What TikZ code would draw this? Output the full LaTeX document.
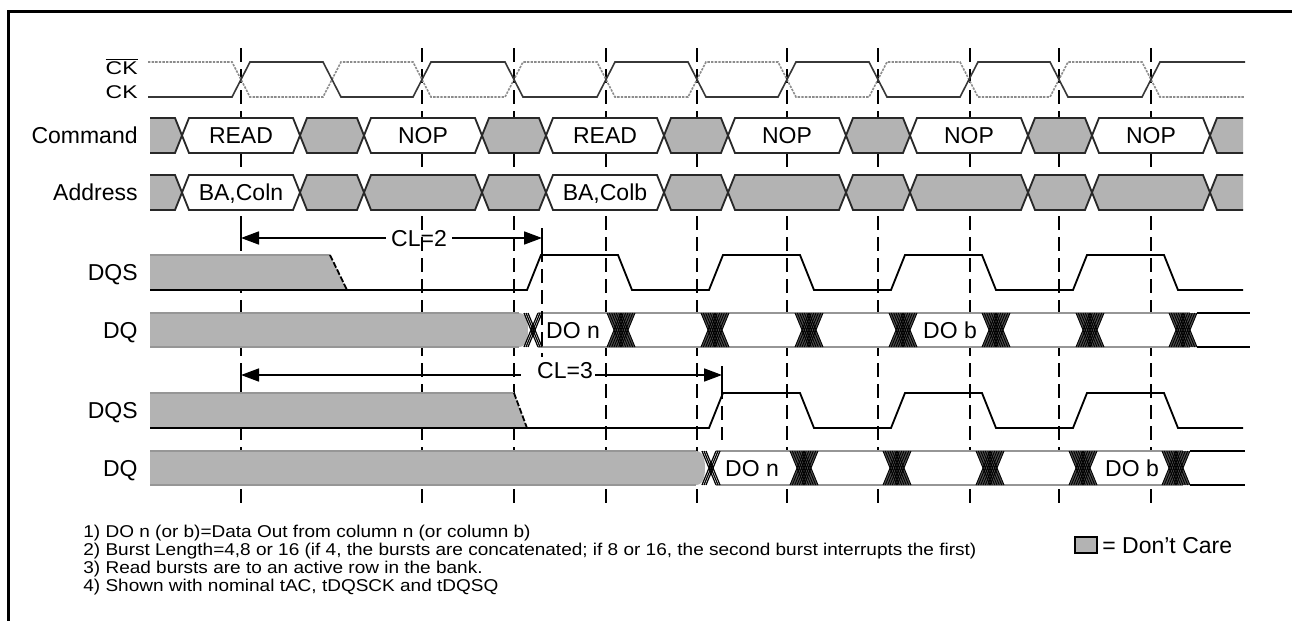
\documentclass[tikz,border=0pt]{standalone}
\usepackage{fontspec}
\setmainfont{Liberation Sans}
\usetikzlibrary{arrows.meta}
\definecolor{dcgray}{RGB}{179,179,179}
\definecolor{edgegray}{RGB}{40,40,40}
\definecolor{dqedge}{RGB}{150,150,150}
\definecolor{hatchfill}{RGB}{80,80,80}
\definecolor{ckline}{RGB}{55,55,55}
\definecolor{ckbline}{RGB}{140,140,140}
\newcommand\lblfont{\fontsize{11.5}{13}\selectfont}
\newcommand\notefont{\fontsize{9.5}{11}\selectfont}
\newcommand\notetext[1]{\scalebox{1}[0.9]{#1}}
% bus segment with both ends pointed
\newcommand\busseg[5]{%
  \filldraw[busline, fill=#5] (#1,{(#3+#4)/2}) -- ({#1+7},#3) -- ({#2-7},#3) -- (#2,{(#3+#4)/2}) -- ({#2-7},#4) -- ({#1+7},#4) -- cycle;}
\newcommand\busfirst[4]{%
  \fill[dcgray] (#1,#3) -- ({#2-7},#3) -- (#2,{(#3+#4)/2}) -- ({#2-7},#4) -- (#1,#4) -- cycle;
  \draw[busline] (#1,#3) -- ({#2-7},#3) -- (#2,{(#3+#4)/2}) -- ({#2-7},#4) -- (#1,#4);}
\newcommand\buslast[4]{%
  \fill[dcgray] (#2,#3) -- ({#1+7},#3) -- (#1,{(#3+#4)/2}) -- ({#1+7},#4) -- (#2,#4) -- cycle;
  \draw[busline] (#2,#3) -- ({#1+7},#3) -- (#1,{(#3+#4)/2}) -- ({#1+7},#4) -- (#2,#4);}
% data eye crossing (hourglass hatch)
\newcommand\eyex[3]{%
  \fill[hatchfill] ({#1-14},#2) -- ({#1+14},#2) -- ({#1+7},{(#2+#3)/2}) -- ({#1+14},#3) -- ({#1-14},#3) -- ({#1-7},{(#2+#3)/2}) -- cycle;
  \foreach \dd in {-7,-4.7,-2.3,0,2.3,4.7,7}{\draw[hatchline] ({#1+\dd-7},#2) -- ({#1+\dd+7},#3) ({#1+\dd-7},#3) -- ({#1+\dd+7},#2);}}
% small start crossing
\newcommand\startx[3]{%
  \foreach \dd in {-2,0,2}{\draw[hatchline, line width=0.6pt] ({#1+\dd-7},#2) -- ({#1+\dd+7},#3) ({#1+\dd-7},#3) -- ({#1+\dd+7},#2);}}
\begin{document}
\begin{tikzpicture}[x=0.5pt,y=-0.5pt,
  lbl/.style={font=\lblfont, inner sep=0pt, text height=8.2pt, text depth=0pt},
  notetxt/.style={font=\notefont, inner sep=0pt, anchor=west, text height=6.2pt, text depth=0pt},
  vguide/.style={line width=1.2pt, dash pattern=on 7pt off 3.5pt},
  busline/.style={draw=edgegray, line width=0.9pt, line join=miter},
  hatchline/.style={black, line width=0.45pt},
  ckstyle/.style={ckline, line width=0.8pt},
  ckbstyle/.style={ckbline, line width=0.8pt, dash pattern=on 1.2pt off 0.6pt},
  sigline/.style={black, line width=0.9pt},
  dqrim/.style={dqedge, line width=1.4pt},
  dimarrow/.style={black, line width=0.8pt, -{Triangle[length=9pt,width=6.5pt]}},
  endbar/.style={black, line width=1pt}
]
\useasboundingbox (0,0) rectangle (1292,621);
% frame
\draw[line width=1.5pt] (8,621) -- (8,11) -- (1292,11);

% vertical guide lines
\foreach \gx in {241,422,514,606,697,787,878,970,1059,1151}
  \draw[vguide] (\gx,48) -- (\gx,505);

% clock
\draw[ckbstyle] (148,62) -- (232,62) -- (250,97) -- (323,97) -- (341,62) -- (413,62) -- (431,97) -- (505,97) -- (523,62) -- (597,62) -- (615,97) -- (688,97) -- (706,62) -- (778,62) -- (796,97) -- (869,97) -- (887,62) -- (960,62) -- (978,97) -- (1050,97) -- (1068,62) -- (1142,62) -- (1160,97) -- (1245,97);
\draw[ckstyle] (148,97) -- (232,97) -- (250,62) -- (323,62) -- (341,97) -- (413,97) -- (431,62) -- (505,62) -- (523,97) -- (597,97) -- (615,62) -- (688,62) -- (706,97) -- (778,97) -- (796,62) -- (869,62) -- (887,97) -- (960,97) -- (978,62) -- (1050,62) -- (1068,97) -- (1142,97) -- (1160,62) -- (1245,62);

% Command bus
\busfirst{150}{182}{118}{153}
\busseg{182}{300}{118}{153}{white}
\busseg{300}{364}{118}{153}{dcgray}
\busseg{364}{482}{118}{153}{white}
\busseg{482}{546}{118}{153}{dcgray}
\busseg{546}{664}{118}{153}{white}
\busseg{664}{728}{118}{153}{dcgray}
\busseg{728}{846}{118}{153}{white}
\busseg{846}{910}{118}{153}{dcgray}
\busseg{910}{1028}{118}{153}{white}
\busseg{1028}{1092}{118}{153}{dcgray}
\busseg{1092}{1210}{118}{153}{white}
\buslast{1210}{1243}{118}{153}
\node[lbl] (c1) at (241,135.5) {READ};
\node[lbl] (c2) at (423,135.5) {NOP};
\node[lbl] (c3) at (605,135.5) {READ};
\node[lbl] (c4) at (787,135.5) {NOP};
\node[lbl] (c5) at (969,135.5) {NOP};
\node[lbl] (c6) at (1151,135.5) {NOP};

% Address bus
\busfirst{150}{182}{175}{210}
\busseg{182}{300}{175}{210}{white}
\busseg{300}{364}{175}{210}{dcgray}
\busseg{364}{482}{175}{210}{dcgray}
\busseg{482}{546}{175}{210}{dcgray}
\busseg{546}{664}{175}{210}{white}
\busseg{664}{728}{175}{210}{dcgray}
\busseg{728}{846}{175}{210}{dcgray}
\busseg{846}{910}{175}{210}{dcgray}
\busseg{910}{1028}{175}{210}{dcgray}
\busseg{1028}{1092}{175}{210}{dcgray}
\busseg{1092}{1210}{175}{210}{dcgray}
\buslast{1210}{1243}{175}{210}
\node[lbl] (a1) at (241,192.5) {BA,Coln};
\node[lbl] (a2) at (605,192.5) {BA,Colb};

% DQS (CL=2)
\fill[dcgray] (150,255) -- (330,255) -- (347,290) -- (150,290) -- cycle;
\draw[dqrim, line width=0.8pt] (150,255) -- (330,255);
\draw[sigline, dash pattern=on 3pt off 1pt] (330,255) -- (347,290);
\draw[sigline] (150,290) -- (527,290) -- (541,255) -- (618,255) -- (632,290) -- (709,290) -- (723,255) -- (800,255) -- (814,290) -- (891,290) -- (905,255) -- (982,255) -- (996,290) -- (1073,290) -- (1087,255) -- (1164,255) -- (1178,290) -- (1243,290);

% DQ (CL=2)
\fill[white] (522,313) rectangle (1197,347);
\fill[dcgray] (150,313) -- (519,313) to[out=0,in=90] (528,330) to[out=-90,in=0] (519,347) -- (150,347) -- cycle;
\draw[dqrim] (150,313) -- (519,313) (150,347) -- (519,347);
\draw[dqrim] (538,313) -- (1190,313) (538,347) -- (1190,347);
\startx{533}{313}{347}
\foreach \hx in {621,715,809,903,996,1090,1183} \eyex{\hx}{313}{347}
\draw[sigline] (1197,313) -- (1250,313) (1197,347) -- (1250,347);
\node[lbl] (d1n) at (573,330) {DO n};
\node[lbl] (d1b) at (950,330) {DO b};

% DQS (CL=3)
\fill[dcgray] (150,393) -- (514,393) -- (527,428) -- (150,428) -- cycle;
\draw[dqrim, line width=0.8pt] (150,393) -- (514,393);
\draw[sigline, dash pattern=on 3pt off 1pt] (514,393) -- (527,428);
\draw[sigline] (150,428) -- (709,428) -- (723,393) -- (800,393) -- (814,428) -- (891,428) -- (905,393) -- (982,393) -- (996,428) -- (1073,428) -- (1087,393) -- (1164,393) -- (1178,428) -- (1243,428);

% DQ (CL=3)
\fill[white] (700,451) rectangle (1190,485);
\fill[dcgray] (150,451) -- (696,451) to[out=0,in=90] (705,468) to[out=-90,in=0] (696,485) -- (150,485) -- cycle;
\draw[dqrim] (150,451) -- (696,451) (150,485) -- (696,485);
\draw[dqrim] (716,451) -- (1183,451) (716,485) -- (1183,485);
\startx{711}{451}{485}
\foreach \hx in {804,897,990,1083,1176} \eyex{\hx}{451}{485}
\draw[sigline] (1190,451) -- (1245,451) (1190,485) -- (1245,485);
\node[lbl] (d2n) at (752,468) {DO n};
\node[lbl] (d2b) at (1132,468) {DO b};

% CL=2 dimension
\coordinate (cl2L) at (241,238);
\coordinate (cl2R) at (542,238);
\node[lbl, inner xsep=2.5pt] (cl2) at (419,238) {CL=2};
\draw[dimarrow] (cl2.west) -- (cl2L);
\draw[dimarrow] (cl2.east) -- (cl2R);
\draw[endbar] (241,229) -- (241,248);
\draw[endbar] (542,228) -- (542,248);
\draw[vguide] (542,248) -- (542,357);

% CL=3 dimension
\coordinate (cl3L) at (241,375);
\coordinate (cl3R) at (722,375);
\node[lbl, inner xsep=1pt] (cl3) at (565,370) {CL=3};
\draw[dimarrow] ([xshift=-7pt]cl3.west |- cl3L) -- (cl3L);
\draw[dimarrow] (cl3.east |- cl3R) -- (cl3R);
\draw[endbar] (241,366) -- (241,385);
\draw[endbar] (722,366) -- (722,385);
\draw[vguide] (722,385) -- (722,440);

% signal labels
\node[lbl, anchor=east] (lckb) at (138,66) {\scalebox{1}[0.8]{$\overline{\mbox{CK}}$}};
\node[lbl, anchor=east] (lck) at (138,90) {\scalebox{1}[0.8]{CK}};
\node[lbl, anchor=east] (lcmd) at (138,135.5) {Command};
\node[lbl, anchor=east] (ladr) at (138,192.5) {Address};
\node[lbl, anchor=east] (ldqs1) at (138,272.5) {DQS};
\node[lbl, anchor=east] (ldq1) at (138,330) {DQ};
\node[lbl, anchor=east] (ldqs2) at (138,410.5) {DQS};
\node[lbl, anchor=east] (ldq2) at (138,468) {DQ};

% legend
\node[draw=black, line width=1pt, fill=dcgray, minimum width=11pt, minimum height=8pt, inner sep=0pt] (dc) at (1086,545) {};
\node[lbl, anchor=west] (dct) at (1102,545) {= Don't Care};

% notes
\node[notetxt] (n1) at (83,531) {\notetext{1) DO n (or b)=Data Out from column n (or column b)}};
\node[notetxt] (n2) at (83,549) {\notetext{2) Burst Length=4,8 or 16 (if 4, the bursts are concatenated; if 8 or 16, the second burst interrupts the first)}};
\node[notetxt] (n3) at (83,567) {\notetext{3) Read bursts are to an active row in the bank.}};
\node[notetxt] (n4) at (83,585) {\notetext{4) Shown with nominal tAC, tDQSCK and tDQSQ}};
\end{tikzpicture}
\end{document}
